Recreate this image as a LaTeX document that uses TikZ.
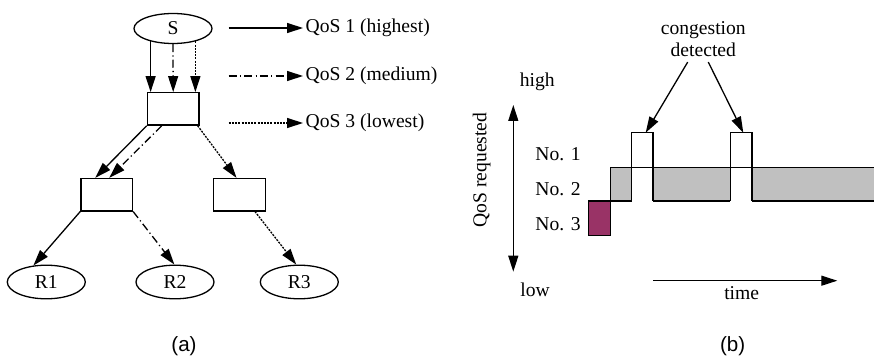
\documentclass[tikz,border=0pt]{standalone}
\usepackage{fontspec}
\setmainfont{Liberation Serif}
\newfontfamily\capfont{Liberation Sans}
\usetikzlibrary{shapes.geometric,arrows.meta,calc}
\definecolor{maroonfill}{HTML}{993366}
\definecolor{grayfill}{HTML}{C0C0C0}
\tikzset{
  lab/.style={inner sep=0pt, font=\fontsize{9.8}{10.85}\selectfont},
  oval/.style={draw, ellipse, inner sep=0pt, minimum width=39pt, minimum height=15pt, font=\fontsize{9.8}{10.85}\selectfont},
  router/.style={draw, rectangle, inner sep=0pt, minimum width=25.8pt, minimum height=16.2pt},
  tip/.style={-{Triangle[length=8pt,width=5pt]}},
  qos1/.style={tip},
  qos2/.style={tip, dash pattern=on 4pt off 1.6pt on 0.6pt off 1.6pt},
  qos3/.style={tip, dash pattern=on 1pt off 0.6pt},
  capt/.style={inner sep=0pt, font=\capfont\fontsize{10.3}{12}\selectfont},
}
\begin{document}
\begin{tikzpicture}[x=0.5pt, y=-0.5pt, line width=0.65pt]
\useasboundingbox (0,0) rectangle (874,358);
% ---------- (a) ----------
\node[oval] (S) at (173,28.5) {S};
\node[router] (b1) at (173.2,108.9) {};
\node[router] (b2) at (106.7,194.7) {};
\node[router] (b3) at (239.5,194.7) {};
\node[oval, minimum height=16.8pt] (R1) at (46.3,282) {R1};
\node[oval, minimum height=16.8pt] (R2) at (175,282) {R2};
\node[oval, minimum height=16.8pt] (R3) at (299.3,282) {R3};

\draw[qos1] (S.210) -- (S.210 |- b1.north);
\draw[qos2] (S.south) -- (b1.north);
\draw[qos3] (S.330) -- (S.330 |- b1.north);

\draw[qos1] (b1.south west) -- ($(b2.north west)+(15,0)$);
\draw[qos2] ($(b1.south west)+(15,0)$) -- ($(b2.north west)+(29,0)$);
\draw[qos3] ($(b1.south east)+(-2,0)$) -- ($(b3.north)+(-3,0)$);

\draw[qos1] (b2.south west) -- (R1.128);
\draw[qos2] (b2.south east) -- (R2.92);
\draw[qos3] ($(b3.south)+(15.5,0)$) -- (R3.100);

% legend
\node[lab, anchor=west] (t1) at (305,28) {QoS 1 (highest)};
\node[lab, anchor=west] (t2) at (305,76) {QoS 2 (medium)};
\node[lab, anchor=west] (t3) at (305,123) {QoS 3 (lowest)};
\coordinate (l1) at (228.7,28);
\coordinate (l2) at (228.7,76);
\coordinate (l3) at (228.7,123);
\draw[qos1] (l1) -- ($(t1.west)+(-2,0)$);
\draw[qos2] (l2) -- ($(t2.west)+(-2,0)$);
\draw[qos3] (l3) -- ($(t3.west)+(-2,0)$);

\node[capt] (capa) at (184,346) {(a)};

% ---------- (b) ----------
\fill[grayfill] (610.7,167.3) rectangle (874,201);
\fill[white] (631.7,167.3) rectangle (653,201);
\fill[white] (730.3,167.3) rectangle (752,201);
\draw (610.7,201) -- (610.7,167.3) -- (874,167.3);
\draw (610.7,201) -- (631.7,201);
\draw (653,201) -- (730.3,201);
\draw (752,201) -- (874,201);
\draw (631.7,201) -- (631.7,132.7) -- (653,132.7) -- (653,201);
\draw (730.3,201) -- (730.3,132.7) -- (752,132.7) -- (752,201);
\draw[fill=maroonfill] (588.7,201) rectangle (610.7,235.7);

\node[lab, align=center, inner sep=2.5pt] (cd) at (703.3,39) {congestion\\detected};
\coordinate (p1) at (645.7,132.7);
\coordinate (p2) at (743.3,132.7);
\draw[tip] ($(cd.south)+(-15.6,0)$) -- (p1);
\draw[tip] ($(cd.south)+(5,0)$) -- (p2);

\node[lab] (high) at (537.3,81.7) {high};
\node[lab] (low) at (535,290) {low};
\coordinate (vt) at (513.3,105);
\coordinate (vb) at (513.3,271.7);
\draw[{Triangle[length=8pt,width=5pt]}-{Triangle[length=8pt,width=5pt]}] (vt) -- (vb);
\node[lab, rotate=90] (qr) at (481.7,170) {QoS requested};

\node[lab] (n1) at (558,154) {No. 1};
\node[lab] (n2) at (558,189) {No. 2};
\node[lab] (n3) at (558,224.3) {No. 3};

\coordinate (ts) at (653.3,280.7);
\coordinate (te) at (837.3,280.7);
\draw[tip] (ts) -- (te);
\node[lab] (time) at (741.7,292.7) {time};

\node[capt] (capb) at (732.7,346) {(b)};
\end{tikzpicture}
\end{document}
